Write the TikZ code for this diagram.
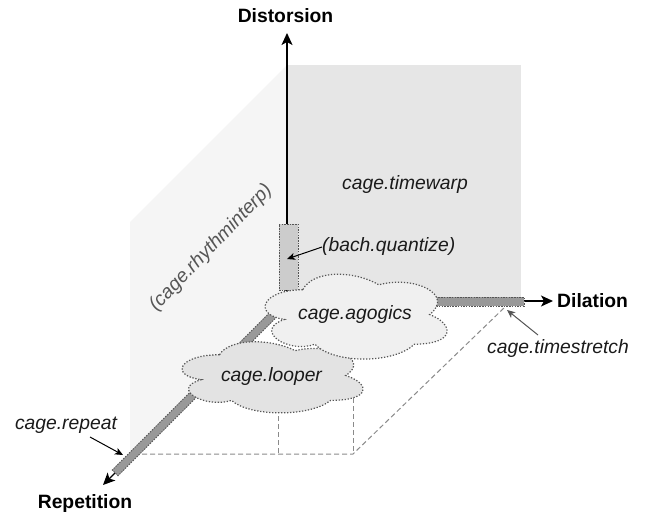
\documentclass[tikz,border=0pt]{standalone}
\usepackage{fontspec}
\setmainfont{Liberation Sans}
\usetikzlibrary{arrows.meta,calc}

\definecolor{wallback}{HTML}{E6E6E6}
\definecolor{wallside}{HTML}{F5F5F5}
\definecolor{cloudlight}{HTML}{F0F0F0}
\definecolor{clouddark}{HTML}{E3E3E3}
\definecolor{barlight}{HTML}{CCCCCC}
\definecolor{bardark}{HTML}{999999}
\definecolor{edgegray}{HTML}{555555}
\definecolor{floorgray}{HTML}{8A8A8A}
\definecolor{inkgray}{HTML}{1A1A1A}

% cloud outline inside the box with top-left corner (#1,#2), width #3, height #4
\newcommand{\mxcloud}[5]{%
  \path[#5]
    ({#1+0.25*#3},{#2+0.25*#4})
    .. controls ({#1+0.05*#3},{#2+0.25*#4}) and ({#1},{#2+0.5*#4}) .. ({#1+0.16*#3},{#2+0.55*#4})
    .. controls ({#1},{#2+0.66*#4}) and ({#1+0.18*#3},{#2+0.9*#4}) .. ({#1+0.31*#3},{#2+0.8*#4})
    .. controls ({#1+0.4*#3},{#2+#4}) and ({#1+0.7*#3},{#2+#4}) .. ({#1+0.8*#3},{#2+0.8*#4})
    .. controls ({#1+#3},{#2+0.8*#4}) and ({#1+#3},{#2+0.6*#4}) .. ({#1+0.875*#3},{#2+0.5*#4})
    .. controls ({#1+#3},{#2+0.3*#4}) and ({#1+0.8*#3},{#2+0.1*#4}) .. ({#1+0.625*#3},{#2+0.2*#4})
    .. controls ({#1+0.5*#3},{#2+0.05*#4}) and ({#1+0.3*#3},{#2+0.05*#4}) .. ({#1+0.25*#3},{#2+0.25*#4})
    -- cycle;}

\tikzset{
  basefont/.style={font=\fontsize{19.3}{23}\selectfont},
  axislabel/.style={basefont, font=\fontsize{19.3}{23}\selectfont\bfseries, text=black, inner sep=0pt},
  itlabel/.style={font=\fontsize{19.3}{23}\selectfont\itshape, text=inkgray, inner sep=0pt},
  axisline/.style={line width=1.3pt, draw=black, -{Stealth[length=12pt,width=11pt,inset=3pt]}},
  pointer/.style={line width=1pt, -{Stealth[length=8pt,width=7pt,inset=2pt]}},
  floorline/.style={draw=floorgray, line width=1pt, dash pattern=on 5pt off 3pt},
  dotedge/.style={draw=edgegray, line width=1.2pt, dash pattern=on 1.3pt off 1.7pt},
  bar/.style={draw=edgegray, line width=0.9pt, dash pattern=on 1.5pt off 1.2pt,
              inner sep=0pt, outer sep=0pt, rectangle},
}

\begin{document}
\begin{tikzpicture}[x=1pt,y=-1pt]
\useasboundingbox (0,0) rectangle (646,515);

% walls
\fill[wallside] (287,65) -- (130,222) -- (130,455) -- (287,301) -- cycle;
\fill[wallback] (287,65) rectangle (521,301);

% axis origin and tips
\coordinate (O) at (287,301);
\coordinate (tipD) at (287,33);
\coordinate (tipL) at (553,301);
\coordinate (tipR) at (103,485);

% floor outline and drop lines
\coordinate (fl) at (134,454);
\coordinate (fr) at (353,454);
\coordinate (fb) at (505,307);
\coordinate (dropA) at (278,400);
\coordinate (dropAf) at (278,454);
\coordinate (dropB) at (353,390);
\draw[floorline] (fl) -- (fr) -- (fb);
\draw[floorline] (dropA) -- (dropAf);
\draw[floorline] (dropB) -- (fr);

% axes
\draw[axisline] (O) -- (tipD);
\draw[axisline] (O) -- (tipL);
\draw[axisline] (O) -- (tipR);

% bars along the axes
\node[bar, fill=barlight, minimum width=19pt, minimum height=66pt] (qbar) at (288.5,257) {};
\node[bar, fill=bardark, minimum width=104pt, minimum height=9pt] (tbar) at (472,301.5) {};
\node[bar, fill=bardark, minimum width=233pt, minimum height=8pt, rotate=45] (rbar) at (197.5,390.5) {};

% clouds
\mxcloud{169}{334}{202}{83}{fill=clouddark, dotedge}
\mxcloud{252}{265}{203}{99}{fill=cloudlight, dotedge}
\node[itlabel] (looper) at (271.5,377) {cage.looper};
\node[itlabel] (agogics) at (355,315) {cage.agogics};

% axis labels
\node[axislabel] (distorsion) at (285.5,15.5) {Distorsion};
\node[axislabel, anchor=west] (dilation) at (557,301) {Dilation};
\node[axislabel] (repetition) at (85,504) {Repetition};

% plane and tool labels
\node[itlabel] (timewarp) at (405,185) {cage.timewarp};
\node[itlabel, text=edgegray, rotate=46] (rhythm) at (211,248) {(cage.rhythminterp)};
\node[itlabel, anchor=west] (quantize) at (322,247) {(bach.quantize)};
\node[itlabel] (repeat) at (66,425) {cage.repeat};
\node[itlabel] (stretch) at (558,349) {cage.timestretch};

% pointers from labels
\coordinate (qpt) at (287,259);
\coordinate (rpt) at (123,455);
\coordinate (spt) at (507,310);
\draw[pointer, draw=black] (quantize.west) -- (qpt);
\draw[pointer, draw=black] (90,437) -- (rpt);
\draw[pointer, draw=edgegray] (538,335) -- (spt);
\end{tikzpicture}
\end{document}
